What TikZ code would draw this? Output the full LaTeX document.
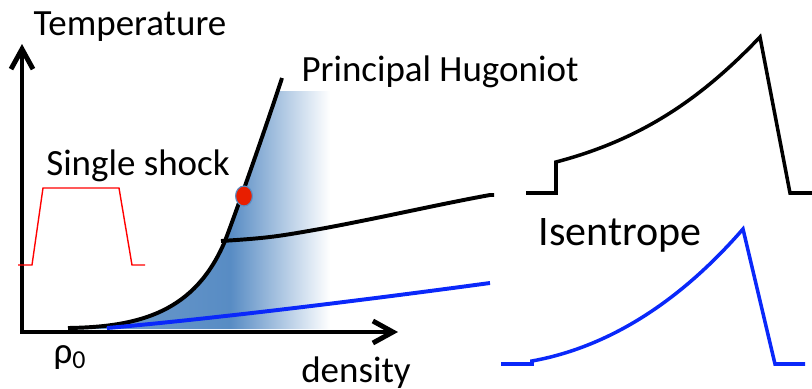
\documentclass[tikz,border=0pt]{standalone}
\usepackage{fontspec}
\setmainfont{Carlito}
\usetikzlibrary{arrows.meta,shapes.geometric}
\definecolor{hugblue}{RGB}{88,140,196}
\definecolor{isoblue}{RGB}{10,40,250}
\definecolor{dotred}{RGB}{232,30,0}
\pgfdeclarehorizontalshading{hugfade}{100bp}{color(0bp)=(hugblue!85);color(25bp)=(hugblue!85);color(56bp)=(hugblue);color(75bp)=(white);color(100bp)=(white)}
\begin{document}
\begin{tikzpicture}[x=0.025cm,y=-0.025cm,font=\fontsize{26.3}{30}\selectfont,
  axis/.style={line width=3.5pt,{Straight Barb[length=5mm,width=5.5mm]}-{Straight Barb[length=5mm,width=5.5mm]}},
  curve/.style={line width=2.8pt},pulse/.style={line width=2.5pt},
  lbl/.style={anchor=base,inner sep=0pt}]
\useasboundingbox (0,0) rectangle (812,389);
% states reached off the Hugoniot
\begin{scope}
\clip (0,91) rectangle (330,329);
\shade[shading=hugfade] (68,328) .. controls (140,327) and (195,312) .. (225,241)
  .. controls (235,215) and (265,130) .. (282,78) -- (330,78) -- (330,329) -- (68,329) -- cycle;
\end{scope}
\coordinate (ytip) at (22,44);
\coordinate (xtip) at (398,332);
\draw[axis] (ytip) |- (xtip);
\draw[curve] (68,328) .. controls (140,327) and (195,312) .. (225,241)
  .. controls (235,215) and (265,130) .. (282,78);
\draw[curve] (221,241) .. controls (270,238) and (280,236) .. (320,229)
  .. controls (380,218) and (440,204) .. (490,195) -- (494,195);
\draw[curve,isoblue] (107,328) .. controls (200,320) and (350,302) .. (490,283);
\node[ellipse,fill=dotred,draw=hugblue,line width=.8pt,minimum width=.42cm,minimum height=.5cm,inner sep=0pt] (shockpt) at (244,196) {};
% pulse shapes
\draw[red,line width=1pt] (18,265) -- (32,265) -- (43,188) -- (119,188) -- (132,265) -- (145,265);
\draw[pulse] (526,193) -- (556,193) -- (556,162) .. controls (640,140) and (700,100) .. (760,37)
  -- (790,193) -- (812,193);
\draw[pulse,isoblue] (501,364) -- (532,364) -- (532,361) .. controls (620,345) and (690,290) .. (743,229)
  -- (775,364) -- (805,364);
\node[lbl] (temp) at (130,35) {Temperature};
\node[lbl] (hug) at (440,81) {Principal Hugoniot};
\node[lbl] (single) at (138,175) {Single shock};
\node[lbl] (rho) at (70,363) {ρ\textsubscript{0}};
\node[lbl] (dens) at (356,382) {density};
\node[lbl,font=\fontsize{29.9}{34}\selectfont] (isen) at (620,245) {Isentrope};
\end{tikzpicture}
\end{document}
